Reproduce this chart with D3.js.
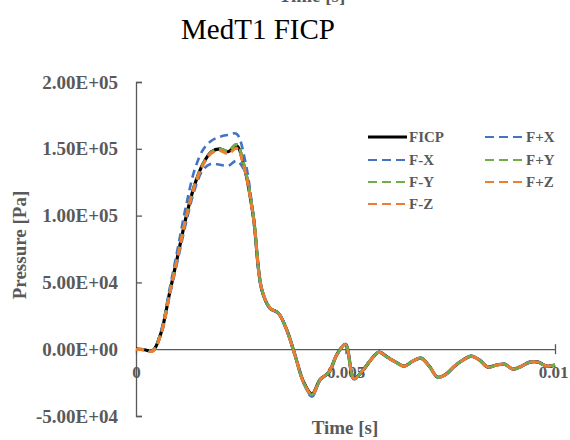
<!DOCTYPE html>
<html>
<head>
<meta charset="utf-8">
<script src="https://cdn.jsdelivr.net/npm/d3@7"></script>
<style>
  body { margin: 0; background: #fff; }
  svg { display: block; }
</style>
</head>
<body>
<svg id="chart" width="570" height="440"></svg>
<script>
// Time samples [s]
const times = [
  0.0000, 0.0002, 0.0004, 0.0006, 0.0008, 0.0010, 0.0012, 0.0014, 0.0016, 0.0018,
  0.0020, 0.0022, 0.0024, 0.0026, 0.0028, 0.0030, 0.0032, 0.0034, 0.0036, 0.0038,
  0.0040, 0.0042, 0.0044, 0.0046, 0.0048, 0.0050, 0.0052, 0.0054, 0.0056, 0.0058,
  0.0060, 0.0062, 0.0064, 0.0066, 0.0068, 0.0070, 0.0072, 0.0074, 0.0076, 0.0078,
  0.0080, 0.0082, 0.0084, 0.0086, 0.0088, 0.0090, 0.0092, 0.0094, 0.0096, 0.0098,
  0.0100
];

// Pressure [Pa] per load case
const ficp = [
  0, -400, -1100, 12500, 41800, 70500, 99600, 123100, 138800, 147800,
  150000, 147800, 152300, 134300, 99300, 44800, 30600, 26900, 14200, -5000,
  -24600, -33600, -22400, -17500, -3700, 3700, -22000, -16400, -8200, -2200,
  -6000, -9700, -12700, -9000, -6700, -12700, -20900, -18700, -12700, -8200,
  -5200, -8200, -13400, -11900, -11200, -14900, -12700, -9700, -9700, -12700,
  -11900
];
const fPlusX = [
  0, -300, -1000, 14000, 44800, 76100, 108200, 134300, 149300, 156000,
  159000, 160400, 161200, 141800, 100500, 45500, 30900, 27200, 14500, -4600,
  -25200, -35000, -23000, -17200, -3400, 3900, -22500, -16100, -8000, -2500,
  -6200, -9900, -12900, -9100, -6900, -12900, -21300, -19000, -12800, -8000,
  -5000, -8300, -13600, -11700, -11400, -15100, -12500, -9500, -9900, -12900,
  -12000
];
const fMinusX = [
  0, -500, -1200, 11000, 39500, 67200, 95500, 119400, 134300, 138800,
  138100, 137300, 141000, 132800, 98200, 44200, 30300, 26600, 13800, -5400,
  -25500, -35500, -22800, -17600, -4000, 3500, -22200, -16600, -8300, -2300,
  -6100, -9600, -12800, -9200, -6600, -12600, -21000, -18900, -12600, -8300,
  -5300, -8100, -13300, -12000, -11100, -14800, -12800, -9800, -9600, -12600,
  -11800
];
const fPlusY = [
  0, -400, -1100, 12300, 41500, 70200, 99300, 123000, 138500, 147500,
  149800, 148800, 153500, 135200, 100200, 45500, 30900, 27000, 14000, -5200,
  -24900, -34200, -22700, -17300, -3900, 3600, -22100, -16300, -8100, -2300,
  -6000, -9800, -12700, -9100, -6700, -12800, -20900, -18800, -12700, -8100,
  -5200, -8200, -13500, -11900, -11200, -14900, -12600, -9700, -9800, -12700,
  -11800
];
const fMinusY = [
  0, -400, -1100, 12400, 41700, 70400, 99500, 123000, 138700, 147600,
  149700, 148300, 152800, 134800, 99700, 45100, 30700, 26800, 14100, -5100,
  -24800, -34000, -22500, -17400, -3800, 3600, -22000, -16400, -8200, -2200,
  -6000, -9700, -12700, -9000, -6700, -12700, -20900, -18700, -12700, -8200,
  -5200, -8200, -13400, -11900, -11200, -14900, -12700, -9700, -9700, -12700,
  -11900
];
const fPlusZ = [
  0, -600, -1500, 11800, 41200, 70000, 99000, 122500, 138000, 146800,
  148800, 146500, 150600, 133500, 99000, 45000, 30800, 26700, 14000, -5300,
  -24700, -33900, -22600, -17300, -3800, 3500, -22100, -16400, -8200, -2300,
  -6100, -9700, -12800, -9000, -6800, -12700, -21000, -18700, -12700, -8200,
  -5200, -8200, -13400, -11900, -11200, -14900, -12700, -9700, -9700, -12700,
  -11900
];
const fMinusZ = [
  0, -600, -1600, 11600, 41000, 69800, 98800, 122300, 137800, 146600,
  148600, 146200, 150200, 133200, 98800, 45200, 30900, 26800, 14100, -5200,
  -24800, -34000, -22500, -17400, -3700, 3500, -22000, -16500, -8300, -2200,
  -6000, -9800, -12700, -9100, -6700, -12800, -20900, -18800, -12600, -8200,
  -5300, -8100, -13400, -12000, -11200, -14800, -12700, -9800, -9700, -12600,
  -11900
];

const seriesNames = ["FICP", "F+X", "F-X", "F+Y", "F-Y", "F+Z", "F-Z"];
const seriesValues = [ficp, fPlusX, fMinusX, fPlusY, fMinusY, fPlusZ, fMinusZ];

const yTicks = [-50000, 0, 50000, 100000, 150000, 200000];
const yTickLabels = ["-5.00E+04", "0.00E+00", "5.00E+04", "1.00E+05", "1.50E+05", "2.00E+05"];
const xTicks = [0, 0.005, 0.01];
const xTickLabels = ["0", "0.005", "0.01"];

const chartTitle = "MedT1 FICP";
const xTitle = "Time  [s]";
const yTitle = "Pressure  [Pa]";

// ---- styling ----
const colors = {
  "FICP": "#000000",
  "F+X": "#4472C4", "F-X": "#4472C4",
  "F+Y": "#70AD47", "F-Y": "#70AD47",
  "F+Z": "#ED7D31", "F-Z": "#ED7D31"
};
const axisColor = "#595959";
const serif = "'Liberation Serif', 'Times New Roman', serif";
const labelSize = 19;
const xLabelSize = 17;

const svg = d3.select("#chart");

const x = d3.scaleLinear().domain([0, 0.01]).range([136, 555]);
const y = d3.scaleLinear().domain([-50000, 200000]).range([416, 82]);

// header text partly clipped at top edge
svg.append("text")
  .attr("x", 312).attr("y", 1.5)
  .attr("text-anchor", "middle")
  .attr("font-family", serif).attr("font-weight", "bold")
  .attr("font-size", labelSize).attr("fill", axisColor)
  .text(xTitle);

// chart title
svg.append("text")
  .attr("x", 258).attr("y", 39)
  .attr("text-anchor", "middle")
  .attr("font-family", serif)
  .attr("font-size", 29).attr("fill", "#000")
  .text(chartTitle);

// y axis (ticks pointing into plot, labels on the left)
const yAxis = d3.axisLeft(y)
  .tickValues(yTicks)
  .tickFormat((d, i) => yTickLabels[i])
  .tickSizeInner(-6).tickSizeOuter(-6).tickPadding(18);

const gy = svg.append("g").attr("transform", "translate(136,0)").call(yAxis);
gy.select(".domain").attr("stroke", axisColor).attr("stroke-width", 1.3);
gy.selectAll(".tick line").attr("stroke", axisColor).attr("stroke-width", 1.3);
gy.selectAll(".tick text")
  .attr("font-family", serif).attr("font-weight", "bold")
  .attr("font-size", labelSize).attr("fill", axisColor);

// x axis along zero pressure
const xAxis = d3.axisBottom(x)
  .tickValues(xTicks)
  .tickFormat((d, i) => xTickLabels[i])
  .tickSizeInner(5).tickSizeOuter(0).tickPadding(12);

const gx = svg.append("g").attr("transform", `translate(0,${y(0)})`).call(xAxis);
gx.select(".domain").attr("stroke", axisColor).attr("stroke-width", 1.3);
gx.selectAll(".tick line").attr("stroke", axisColor).attr("stroke-width", 1.3)
  .attr("y1", d => d === 0 ? 0 : -5);
gx.selectAll(".tick text")
  .attr("font-family", serif).attr("font-weight", "bold")
  .attr("font-size", xLabelSize).attr("fill", axisColor)
  .attr("dx", d => d === 0.01 ? -2 : 0);

// axis titles
svg.append("text")
  .attr("x", 345).attr("y", 434)
  .attr("text-anchor", "middle")
  .attr("font-family", serif).attr("font-weight", "bold")
  .attr("font-size", labelSize).attr("fill", axisColor)
  .text(xTitle);

svg.append("text")
  .attr("transform", "translate(26,245) rotate(-90)")
  .attr("text-anchor", "middle")
  .attr("font-family", serif).attr("font-weight", "bold")
  .attr("font-size", labelSize).attr("fill", axisColor)
  .text(yTitle);

// series
const line = d3.line()
  .x((d, i) => x(times[i]))
  .y(d => y(d))
  .curve(d3.curveCatmullRom.alpha(0.5));

seriesNames.forEach((name, si) => {
  const isRef = name === "FICP";
  svg.append("path")
    .datum(seriesValues[si])
    .attr("fill", "none")
    .attr("stroke", colors[name])
    .attr("stroke-width", isRef ? 3.2 : 2.6)
    .attr("stroke-dasharray", isRef ? null : "8,5")
    .attr("stroke-linejoin", "round")
    .attr("d", line);
});

// legend
const legendCols = [368, 485];
const legendRows = [137, 160, 182, 204];
const legendOrder = [
  ["FICP", 0, 0], ["F+X", 1, 0],
  ["F-X", 0, 1], ["F+Y", 1, 1],
  ["F-Y", 0, 2], ["F+Z", 1, 2],
  ["F-Z", 0, 3]
];
const lg = svg.append("g");
legendOrder.forEach(([name, c, r]) => {
  const lx = legendCols[c], ly = legendRows[r];
  const isRef = name === "FICP";
  lg.append("line")
    .attr("x1", lx).attr("x2", lx + 39)
    .attr("y1", ly).attr("y2", ly)
    .attr("stroke", colors[name])
    .attr("stroke-width", isRef ? 3.2 : 2.2)
    .attr("stroke-dasharray", isRef ? null : "9,5");
  lg.append("text")
    .attr("x", lx + 41).attr("y", ly + 5)
    .attr("font-family", serif).attr("font-weight", "bold")
    .attr("font-size", 15).attr("fill", axisColor)
    .text(name);
});
</script>
</body>
</html>
